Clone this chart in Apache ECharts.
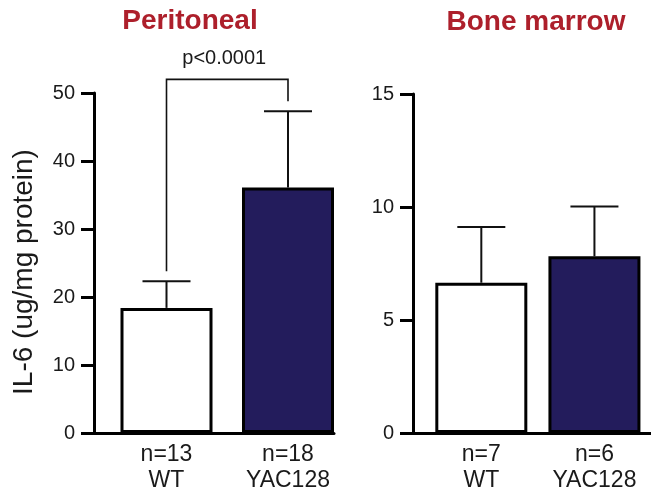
<!DOCTYPE html>
<html>
<head>
<meta charset="utf-8">
<script src="https://cdn.jsdelivr.net/npm/echarts@6/dist/echarts.min.js"></script>
<style>
  html, body { margin: 0; padding: 0; background: #fff; }
  #chart { width: 651px; height: 496px; }
</style>
</head>
<body>
<div id="chart"></div>
<script>
// IL-6 levels, mean + SEM, WT vs YAC128
const categories = ['WT', 'YAC128'];

const periMeans = [18.4, 36.1];
const periSem = [3.9, 11.2];
const periN = [13, 18];
const periTicks = { min: 0, max: 50, interval: 10 };
const periBracketTop = 52;
const periPText = 'p<0.0001';

const marrowMeans = [6.65, 7.82];
const marrowSem = [2.47, 2.2];
const marrowN = [7, 6];
const marrowTicks = { min: 0, max: 15, interval: 5 };

const panelTitles = ['Peritoneal', 'Bone marrow'];
const yTitle = 'IL-6 (ug/mg protein)';

const FONT = '"Liberation Sans", Arial, Helvetica, sans-serif';
const barColors = ['#ffffff', '#231c5c'];
const ink = '#111111';

function nLabels(ns) {
  return function (value, idx) { return 'n=' + ns[idx] + '\n' + value; };
}

function axesGrid(gi, ticks) {
  return {
    x: {
      gridIndex: gi, type: 'category', data: categories,
      axisLine: { lineStyle: { color: '#000', width: 3 } },
      axisTick: { show: false }, axisLabel: { show: false }
    },
    y: {
      gridIndex: gi, type: 'value', min: ticks.min, max: ticks.max, interval: ticks.interval,
      axisLine: { show: true, lineStyle: { color: '#000', width: 3 } },
      axisTick: { show: true, length: 13, lineStyle: { color: '#000', width: 3 } },
      splitLine: { show: false },
      axisLabel: { fontFamily: FONT, fontSize: 20, color: '#1a1a1a', margin: 19 }
    }
  };
}

function barGrid(gi, ticks, ns) {
  return {
    x: {
      gridIndex: gi, type: 'category', data: categories,
      axisLine: { show: false }, axisTick: { show: false },
      axisLabel: {
        formatter: nLabels(ns), fontFamily: FONT, fontSize: 23, lineHeight: 26,
        color: '#1a1a1a', margin: 9
      }
    },
    y: { gridIndex: gi, type: 'value', min: ticks.min, max: ticks.max, show: false }
  };
}

function barSeries(gi, means) {
  return {
    type: 'bar', xAxisIndex: gi, yAxisIndex: gi, barWidth: 92, z: 3,
    data: means.map(function (v, i) {
      return { value: v, itemStyle: { color: barColors[i], borderColor: '#000', borderWidth: 3 } };
    })
  };
}

function errorSeries(gi, means, sem) {
  return {
    type: 'custom', xAxisIndex: gi, yAxisIndex: gi, z: 2,
    data: means.map(function (m, i) { return [i, m, sem[i]]; }),
    renderItem: function (params, api) {
      const i = api.value(0), m = api.value(1), s = api.value(2);
      const base = api.coord([i, m]);
      const top = api.coord([i, m + s]);
      const half = 24;
      return {
        type: 'group',
        children: [
          { type: 'line', shape: { x1: base[0], y1: base[1], x2: top[0], y2: top[1] },
            style: { stroke: ink, lineWidth: 2 } },
          { type: 'line', shape: { x1: top[0] - half, y1: top[1], x2: top[0] + half, y2: top[1] },
            style: { stroke: ink, lineWidth: 2 } }
        ]
      };
    }
  };
}

function bracketSeries(gi, means, sem, topVal, text) {
  return {
    type: 'custom', xAxisIndex: gi, yAxisIndex: gi, z: 4, clip: false,
    data: [[0, 1, means[0] + sem[0], means[1] + sem[1], topVal]],
    renderItem: function (params, api) {
      const a = api.coord([api.value(0), api.value(2)]);
      const b = api.coord([api.value(1), api.value(3)]);
      const t = api.coord([api.value(0), api.value(4)]);
      const gap = 10;
      return {
        type: 'group',
        children: [
          { type: 'polyline',
            shape: { points: [[a[0], a[1] - gap], [a[0], t[1]], [b[0], t[1]], [b[0], b[1] - gap]] },
            style: { stroke: ink, lineWidth: 1.6, fill: null } },
          { type: 'text', x: (a[0] + b[0]) / 2 - 3, y: t[1] - 11,
            style: { text: text, font: '20px ' + FONT, fill: '#1a1a1a',
                     textAlign: 'center', textVerticalAlign: 'bottom' } }
        ]
      };
    }
  };
}

const pA = axesGrid(0, periTicks);
const pB = barGrid(1, periTicks, periN);
const mA = axesGrid(2, marrowTicks);
const mB = barGrid(3, marrowTicks, marrowN);

const option = {
  animation: false,
  backgroundColor: '#ffffff',
  grid: [
    { left: 94, top: 93, width: 240, bottom: 63 },
    { left: 105.75, top: 93, width: 243, bottom: 63 },
    { left: 413, top: 94, width: 240, bottom: 63 },
    { left: 424.75, top: 94, width: 243, bottom: 63 }
  ],
  xAxis: [pA.x, pB.x, mA.x, mB.x],
  yAxis: [pA.y, pB.y, mA.y, mB.y],
  series: [
    errorSeries(1, periMeans, periSem),
    barSeries(1, periMeans),
    bracketSeries(1, periMeans, periSem, periBracketTop, periPText),
    errorSeries(3, marrowMeans, marrowSem),
    barSeries(3, marrowMeans)
  ],
  graphic: [
    { type: 'text', x: 190, y: 21,
      style: { text: panelTitles[0], font: 'bold 28px ' + FONT, fill: '#ad1f2b',
               textAlign: 'center', textVerticalAlign: 'middle' } },
    { type: 'text', x: 536, y: 22,
      style: { text: panelTitles[1], font: 'bold 28px ' + FONT, fill: '#ad1f2b',
               textAlign: 'center', textVerticalAlign: 'middle' } },
    { type: 'text', x: 24, y: 272, rotation: Math.PI / 2,
      style: { text: yTitle, font: '28px ' + FONT, fill: '#1a1a1a',
               textAlign: 'center', textVerticalAlign: 'middle' } }
  ]
};

const chart = echarts.init(document.getElementById('chart'), null, { renderer: 'canvas' });
chart.setOption(option);
</script>
</body>
</html>
